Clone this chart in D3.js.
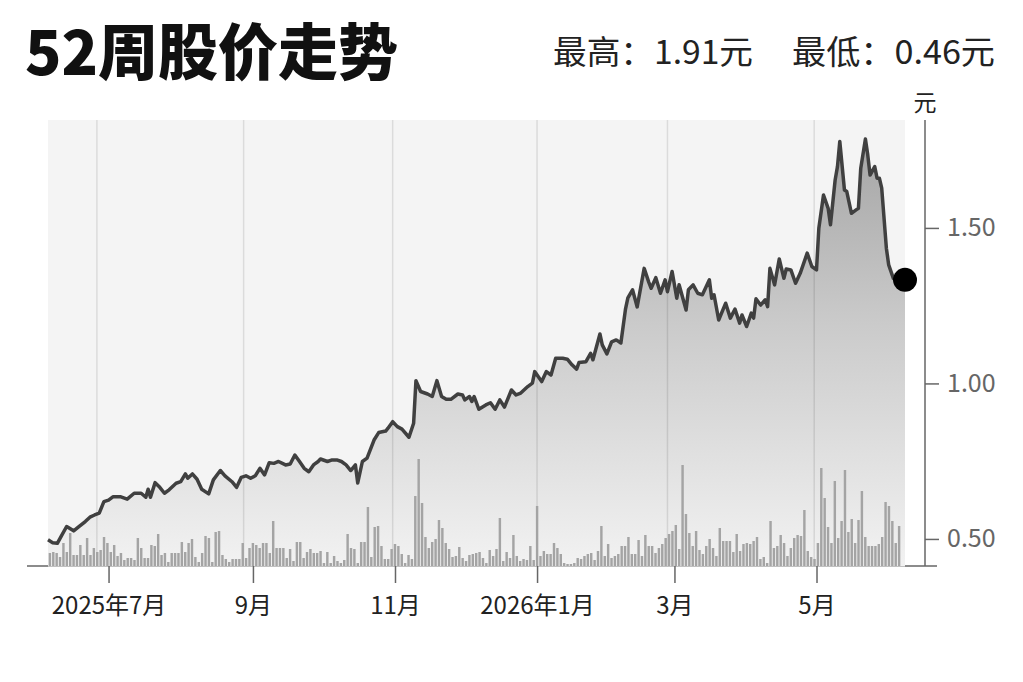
<!DOCTYPE html>
<html>
<head>
<meta charset="utf-8">
<script src="https://cdn.jsdelivr.net/npm/d3@7"></script>
<style>
  html, body { margin: 0; padding: 0; background: #fff; }
  svg { display: block; font-family: "Noto Sans CJK SC", "Noto Sans", sans-serif; }
</style>
</head>
<body>
<svg id="chart" width="1023" height="682"></svg>
<script>
// closing price (元)
const priceDates = [
  "2025-06-05","2025-06-07","2025-06-09","2025-06-11","2025-06-13","2025-06-16","2025-06-18","2025-06-21","2025-06-23","2025-06-25",
  "2025-06-27","2025-06-29","2025-07-01","2025-07-03","2025-07-06","2025-07-09","2025-07-12","2025-07-15","2025-07-17","2025-07-18",
  "2025-07-19","2025-07-21","2025-07-23","2025-07-25","2025-07-27","2025-07-30","2025-08-01","2025-08-03","2025-08-04","2025-08-06",
  "2025-08-08","2025-08-10","2025-08-13","2025-08-15","2025-08-18","2025-08-20","2025-08-23","2025-08-25","2025-08-27","2025-08-29",
  "2025-08-31","2025-09-02","2025-09-04","2025-09-06","2025-09-08","2025-09-10","2025-09-12","2025-09-15","2025-09-17","2025-09-19",
  "2025-09-21","2025-09-23","2025-09-25","2025-09-27","2025-09-29","2025-09-30","2025-10-03","2025-10-05","2025-10-07","2025-10-09",
  "2025-10-11","2025-10-13","2025-10-15","2025-10-16","2025-10-18","2025-10-20","2025-10-23","2025-10-25","2025-10-28","2025-10-29",
  "2025-10-31","2025-11-02","2025-11-04","2025-11-07","2025-11-09","2025-11-10","2025-11-12","2025-11-15","2025-11-17","2025-11-19",
  "2025-11-21","2025-11-23","2025-11-25","2025-11-28","2025-11-30","2025-12-01","2025-12-03","2025-12-04","2025-12-05","2025-12-07",
  "2025-12-10","2025-12-12","2025-12-14","2025-12-16","2025-12-18","2025-12-21","2025-12-23","2025-12-25","2025-12-28","2025-12-30",
  "2025-12-31","2026-01-02","2026-01-03","2026-01-05","2026-01-07","2026-01-09","2026-01-12","2026-01-14","2026-01-16","2026-01-18",
  "2026-01-19","2026-01-22","2026-01-24","2026-01-25","2026-01-28","2026-01-29","2026-01-31","2026-02-02","2026-02-04","2026-02-06",
  "2026-02-08","2026-02-09","2026-02-11","2026-02-13","2026-02-16","2026-02-18","2026-02-19","2026-02-21","2026-02-23","2026-02-25",
  "2026-02-26","2026-02-28","2026-03-02","2026-03-03","2026-03-06","2026-03-07","2026-03-09","2026-03-11","2026-03-13","2026-03-16",
  "2026-03-17","2026-03-18","2026-03-20","2026-03-23","2026-03-25","2026-03-27","2026-03-29","2026-03-30","2026-04-01","2026-04-03",
  "2026-04-04","2026-04-05","2026-04-07","2026-04-09","2026-04-10","2026-04-11","2026-04-13","2026-04-15","2026-04-17","2026-04-18",
  "2026-04-20","2026-04-22","2026-04-24","2026-04-27","2026-04-29","2026-05-01","2026-05-02","2026-05-04","2026-05-06","2026-05-07",
  "2026-05-09","2026-05-10","2026-05-11","2026-05-13","2026-05-14","2026-05-16","2026-05-18","2026-05-19","2026-05-20","2026-05-22",
  "2026-05-23","2026-05-24","2026-05-26","2026-05-27","2026-05-28","2026-05-29","2026-05-31","2026-06-01","2026-06-03","2026-06-05",
  "2026-06-08"
];
const prices = [
  0.497,0.488,0.486,0.513,0.540,0.526,0.538,0.556,0.570,0.577,
  0.583,0.620,0.625,0.636,0.636,0.628,0.647,0.647,0.634,0.660,
  0.634,0.681,0.666,0.647,0.658,0.679,0.684,0.709,0.695,0.709,
  0.692,0.660,0.645,0.690,0.720,0.703,0.684,0.666,0.698,0.703,
  0.695,0.703,0.727,0.706,0.745,0.743,0.749,0.738,0.741,0.770,
  0.749,0.727,0.716,0.738,0.749,0.757,0.749,0.754,0.754,0.749,
  0.738,0.720,0.738,0.680,0.749,0.760,0.818,0.842,0.847,0.856,
  0.877,0.861,0.853,0.827,0.872,1.009,0.974,0.966,0.958,1.009,
  0.958,0.949,0.949,0.966,0.963,0.947,0.958,0.942,0.958,0.917,
  0.931,0.938,0.917,0.947,0.924,0.979,0.963,0.969,0.990,1.001,
  1.038,1.017,1.006,1.038,1.027,1.081,1.081,1.078,1.060,1.046,
  1.067,1.070,1.097,1.076,1.159,1.124,1.095,1.134,1.140,1.130,
  1.240,1.275,1.301,1.246,1.370,1.325,1.306,1.340,1.290,1.333,
  1.295,1.360,1.274,1.317,1.236,1.301,1.317,1.290,1.285,1.333,
  1.274,1.285,1.204,1.258,1.210,1.239,1.194,1.220,1.183,1.226,
  1.210,1.272,1.252,1.269,1.247,1.370,1.317,1.400,1.338,1.368,
  1.365,1.322,1.354,1.419,1.376,1.365,1.499,1.606,1.563,1.510,
  1.654,1.697,1.778,1.622,1.617,1.547,1.558,1.563,1.692,1.786,
  1.735,1.670,1.697,1.660,1.660,1.628,1.435,1.381,1.338,1.327,
  1.333
];

// daily volume, one bar per trading day (relative units)
const volumes = [
  13,14,13,9,23,14,33,11,11,21,11,28,11,18,14,16,29,23,14,21,
  10,13,6,8,8,6,28,18,8,8,21,20,32,11,13,4,13,13,13,24,
  14,23,27,9,4,13,30,28,4,34,35,11,7,4,7,7,7,23,8,18,
  23,21,18,23,23,13,45,18,18,18,8,
  17,5,24,24,8,14,17,13,13,15,3,14,3,10,5,3,6,32,18,17,
  3,24,24,59,9,39,40,20,7,7,17,22,20,12,3,11,7,70,107,63,
  29,18,24,27,46,38,23,17,9,10,19,8,5,11,12,13,14,8,3,16,
  10,17,48,5,14,8,31,10,5,7,
  6,20,6,60,10,15,12,12,23,18,12,3,2,2,3,8,7,10,12,13,
  6,15,40,10,22,8,10,12,20,20,29,12,12,26,10,31,20,20,13,18,
  22,28,32,35,41,17,101,52,33,20,35,16,12,20,27,18,10,38,25,25,
  25,14,32,15,22,23,22,25,29,7,9,3,45,18,20,31,23,10,18,28,
  31,30,56,15,9,7,23,98,68,39,23,85,28,45,96,34,47,23,46,75,
  29,20,20,20,22,29,64,60,45,23,40
];

const monthTicks = ["2025-07-01","2025-09-01","2025-11-01","2026-01-01","2026-03-01","2026-05-01"];
const monthLabels = ["2025年7月","9月","11月","2026年1月","3月","5月"];
const gridDates = ["2025-06-26","2025-08-28","2025-10-31","2026-01-01","2026-02-26","2026-04-30"];
const priceTicks = [0.5, 1.0, 1.5];
const title = "52周股价走势";
const highText = "最高：1.91元";
const lowText = "最低：0.46元";
const unit = "元";

const parse = d3.timeParse("%Y-%m-%d");
const series = priceDates.map((d, i) => ({ date: parse(d), value: prices[i] }));

const plot = { left: 48, right: 905, top: 120, bottom: 566 };
const axisX = 925;
const volumeHeight = 107;
const ink = "#222";
const axisGray = "#666";

const svg = d3.select("#chart");

const x = d3.scaleTime()
  .domain([series[0].date, series[series.length - 1].date])
  .range([plot.left, plot.right]);
const y = d3.scaleLinear()
  .domain([0.413, 1.847])
  .range([plot.bottom, plot.top]);
const band = d3.scaleBand()
  .domain(d3.range(volumes.length))
  .range([plot.left, plot.right - 4])
  .paddingInner(0.28)
  .paddingOuter(0.2);
const vol = d3.scaleLinear()
  .domain([0, d3.max(volumes)])
  .range([0, volumeHeight]);

// header
svg.append("text")
  .attr("x", 25)
  .attr("y", 75)
  .attr("font-size", 61)
  .attr("font-weight", 900)
  .attr("fill", "#111")
  .attr("textLength", 373)
  .attr("lengthAdjust", "spacingAndGlyphs")
  .text(title);
svg.append("text")
  .attr("x", 753)
  .attr("y", 64)
  .attr("text-anchor", "end")
  .attr("font-size", 33)
  .attr("fill", ink)
  .attr("textLength", 200)
  .attr("lengthAdjust", "spacingAndGlyphs")
  .text(highText);
svg.append("text")
  .attr("x", 995)
  .attr("y", 64)
  .attr("text-anchor", "end")
  .attr("font-size", 33)
  .attr("fill", ink)
  .attr("textLength", 203)
  .attr("lengthAdjust", "spacingAndGlyphs")
  .text(lowText);

// baseline that pokes out on both sides of the plot
svg.append("line")
  .attr("x1", 27).attr("x2", 937)
  .attr("y1", plot.bottom).attr("y2", plot.bottom)
  .attr("stroke", axisGray)
  .attr("stroke-width", 1.5);

svg.append("rect")
  .attr("x", plot.left)
  .attr("y", plot.top)
  .attr("width", plot.right - plot.left)
  .attr("height", plot.bottom - plot.top + 0.5)
  .attr("fill", "#f4f4f4");

const defs = svg.append("defs");
const grad = defs.append("linearGradient")
  .attr("id", "areaFill")
  .attr("gradientUnits", "userSpaceOnUse")
  .attr("x1", 0).attr("x2", 0)
  .attr("y1", plot.top + 10).attr("y2", plot.bottom);
grad.append("stop").attr("offset", 0).attr("stop-color", "#a3a3a3");
grad.append("stop").attr("offset", 0.45).attr("stop-color", "#cbcbcb");
grad.append("stop").attr("offset", 1).attr("stop-color", "#f2f2f2");

const area = d3.area()
  .x((d) => x(d.date))
  .y0(plot.bottom)
  .y1((d) => y(d.value));
svg.append("path")
  .datum(series)
  .attr("d", area)
  .attr("fill", "url(#areaFill)");

svg.append("g")
  .selectAll("line")
  .data(gridDates.map(parse))
  .join("line")
  .attr("x1", (d) => x(d)).attr("x2", (d) => x(d))
  .attr("y1", plot.top).attr("y2", plot.bottom)
  .attr("stroke", "#000")
  .attr("stroke-opacity", 0.1)
  .attr("stroke-width", 1.5);

svg.append("g")
  .selectAll("rect")
  .data(volumes)
  .join("rect")
  .attr("x", (d, i) => band(i))
  .attr("width", band.bandwidth())
  .attr("y", (d) => plot.bottom - vol(d))
  .attr("height", (d) => vol(d))
  .attr("fill", "#a4a4a4");

const line = d3.line()
  .x((d) => x(d.date))
  .y((d) => y(d.value));
svg.append("path")
  .datum(series)
  .attr("d", line)
  .attr("fill", "none")
  .attr("stroke", "#404040")
  .attr("stroke-width", 3.5)
  .attr("stroke-linejoin", "round");

const last = series[series.length - 1];
svg.append("circle")
  .attr("cx", x(last.date))
  .attr("cy", y(last.value))
  .attr("r", 12)
  .attr("fill", "#000");

// right price axis
const yAxis = svg.append("g")
  .attr("transform", `translate(${axisX},0)`)
  .call(d3.axisRight(y).tickValues(priceTicks).tickSize(14).tickPadding(8).tickFormat(d3.format(".2f")));
yAxis.select(".domain")
  .attr("d", `M0,${plot.top}V${plot.bottom}`)
  .attr("stroke", axisGray)
  .attr("stroke-width", 1.5);
yAxis.selectAll(".tick line").attr("stroke", axisGray).attr("stroke-width", 1.5);
yAxis.selectAll(".tick text")
  .attr("font-size", 25)
  .attr("font-family", "\"Noto Sans CJK SC\", sans-serif")
  .attr("fill", axisGray);

svg.append("text")
  .attr("x", axisX)
  .attr("y", 111)
  .attr("text-anchor", "middle")
  .attr("font-size", 23)
  .attr("fill", ink)
  .text(unit);

// bottom month axis
const xAxis = svg.append("g")
  .attr("transform", `translate(0,${plot.bottom})`)
  .call(d3.axisBottom(x).tickValues(monthTicks.map(parse)).tickSize(17).tickPadding(14)
    .tickFormat((d, i) => monthLabels[i]));
xAxis.select(".domain").remove();
xAxis.selectAll(".tick line").attr("stroke", axisGray).attr("stroke-width", 1.5);
xAxis.selectAll(".tick text")
  .attr("font-size", 24)
  .attr("font-family", "\"Noto Sans CJK SC\", sans-serif")
  .attr("fill", ink);
</script>
</body>
</html>
